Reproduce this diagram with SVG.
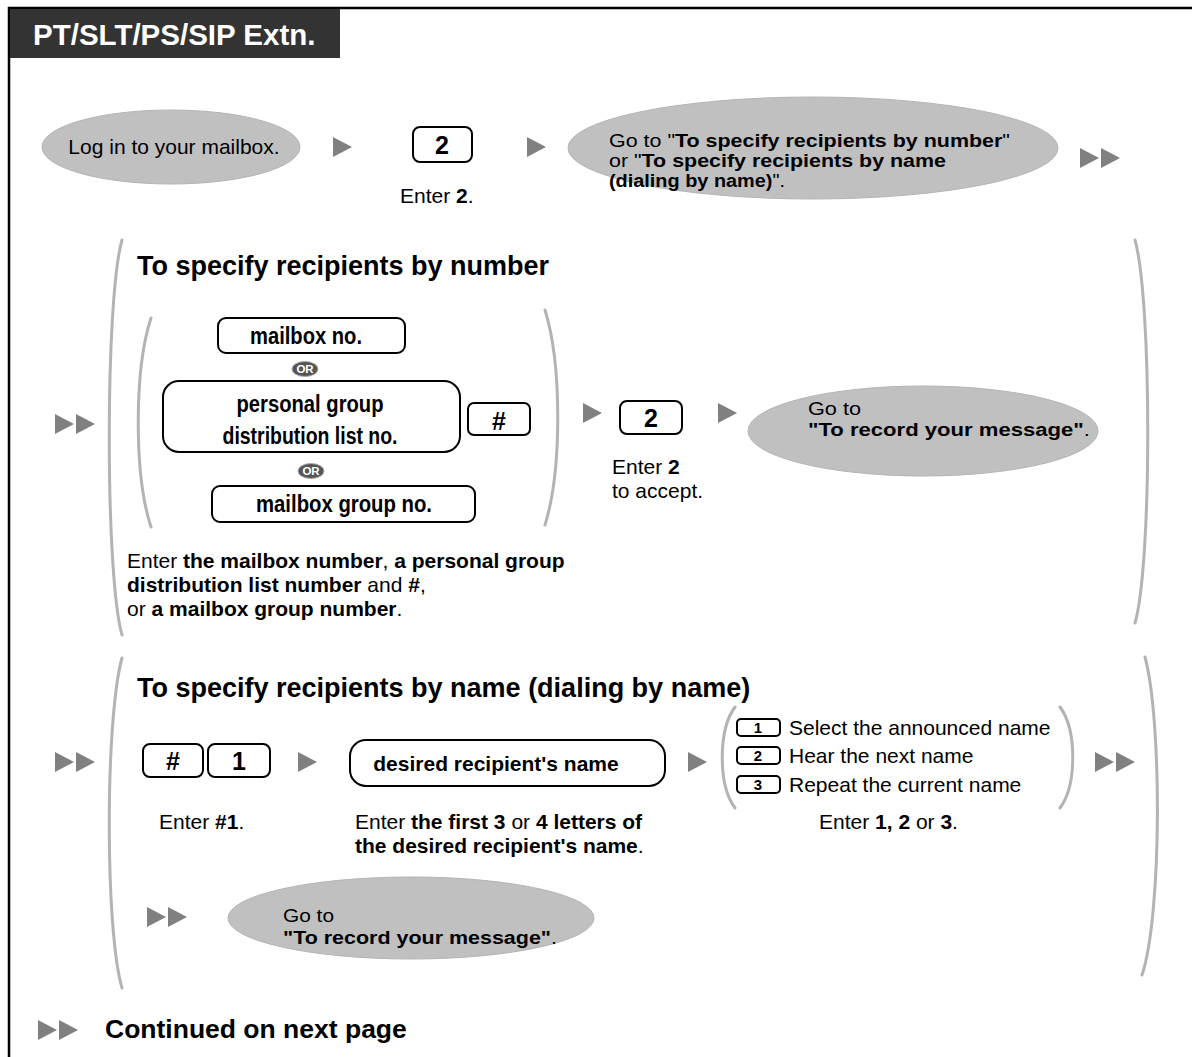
<svg xmlns="http://www.w3.org/2000/svg" width="1192" height="1057" viewBox="0 0 1192 1057">
<style>
text{font-family:"Liberation Sans",Arial,sans-serif;fill:#000}
.t{font-size:21px}
.e{font-size:17.5px}
.b{font-weight:bold}
.ttl{font-size:27px;font-weight:bold}
.key{fill:#fff;stroke:#000;stroke-width:2}
.kt{font-size:25px;font-weight:bold;text-anchor:middle}
.nar{font-family:"Liberation Sans Narrow","Liberation Sans",Arial,sans-serif;font-size:23px;font-weight:bold;text-anchor:middle}
.ell{fill:#c0c0c0;stroke:#b4b4b4;stroke-width:1}
.par{fill:none;stroke:#b3b3b3;stroke-width:3;stroke-linecap:round}
.sk{fill:#fff;stroke:#000;stroke-width:2}
.skt{font-size:15px;font-weight:bold;text-anchor:middle}
</style>
<defs>
<polygon id="tri" points="0,0 19,10 0,20" fill="#808080"/>
<g id="dbl"><use href="#tri"/><use href="#tri" x="21"/></g>
<g id="or"><ellipse cx="0" cy="0" rx="13" ry="7.5" fill="#555" stroke="#aaa" stroke-width="1"/><text x="0" y="4" font-size="11.5" font-weight="bold" text-anchor="middle" style="fill:#fff">OR</text></g>
</defs>
<rect width="1192" height="1057" fill="#fff"/>
<!-- frame -->
<path d="M9,1057 V8 H1192" fill="none" stroke="#000" stroke-width="2.5"/>
<g id="header">
<rect x="10" y="9" width="330" height="49" fill="#333"/>
<text x="33" y="45" font-size="29.5" font-weight="bold" style="fill:#fff">PT/SLT/PS/SIP Extn.</text>
</g>

<!-- Row 1 -->
<g id="login">
<ellipse class="ell" cx="171" cy="147" rx="129" ry="37"/>
<text class="t" x="174" y="154" text-anchor="middle">Log in to your mailbox.</text>
</g>
<g id="key2a">
<rect class="key" x="413" y="127" width="59" height="35" rx="7"/>
<text class="kt" x="442" y="154">2</text>
<text class="t" x="400" y="203">Enter <tspan class="b">2</tspan>.</text>
</g>
<g id="goto1">
<ellipse class="ell" cx="813" cy="148" rx="245" ry="51"/>
<text class="e" x="609" y="147" textLength="401" lengthAdjust="spacingAndGlyphs">Go to "<tspan class="b">To specify recipients by number</tspan>"</text>
<text class="e" x="609" y="167" textLength="337" lengthAdjust="spacingAndGlyphs">or "<tspan class="b">To specify recipients by name</tspan></text>
<text class="e" x="609" y="187" textLength="176" lengthAdjust="spacingAndGlyphs"><tspan class="b">(dialing by name)</tspan>".</text>
</g>

<!-- Section 1 -->
<g id="sec1">
<text class="ttl" x="137" y="275">To specify recipients by number</text>
<g id="mbx"><rect class="key" x="218" y="318" width="187" height="35" rx="8"/>
<text class="nar" x="306" y="344" textLength="112" lengthAdjust="spacingAndGlyphs">mailbox no.</text></g>
<use href="#or" x="305" y="369"/>
<g id="pgd"><rect class="key" x="163" y="381" width="297" height="71" rx="16"/>
<text class="nar" x="310" y="412" textLength="147" lengthAdjust="spacingAndGlyphs">personal group</text>
<text class="nar" x="310" y="444" textLength="175" lengthAdjust="spacingAndGlyphs">distribution list no.</text></g>
<g id="hash1"><rect class="key" x="468" y="403" width="62" height="32" rx="6"/>
<text class="kt" x="499" y="430">#</text></g>
<use href="#or" x="311" y="471"/>
<g id="mgn"><rect class="key" x="212" y="486" width="263" height="36" rx="8"/>
<text class="nar" x="344" y="512" textLength="176" lengthAdjust="spacingAndGlyphs">mailbox group no.</text></g>
<text class="t" x="127" y="568">Enter <tspan class="b">the mailbox number</tspan>, <tspan class="b">a personal group</tspan></text>
<text class="t" x="127" y="592"><tspan class="b">distribution list number</tspan> and <tspan class="b">#</tspan>,</text>
<text class="t" x="127" y="616">or <tspan class="b">a mailbox group number</tspan>.</text>
<g id="key2b"><rect class="key" x="620" y="401" width="62" height="33" rx="7"/>
<text class="kt" x="651" y="427">2</text>
<text class="t" x="612" y="474">Enter <tspan class="b">2</tspan></text>
<text class="t" x="612" y="498">to accept.</text></g>
<g id="goto2"><ellipse class="ell" cx="923" cy="431" rx="175" ry="45"/>
<text class="e" x="808" y="415" textLength="53" lengthAdjust="spacingAndGlyphs">Go to</text>
<text class="e" x="808" y="436" font-weight="bold" textLength="282" lengthAdjust="spacingAndGlyphs">"To record your message"<tspan font-weight="normal">.</tspan></text></g>
</g>

<!-- Section 2 -->
<g id="sec2">
<text class="ttl" x="137" y="697">To specify recipients by name (dialing by name)</text>
<g id="hash1key"><rect class="key" x="143" y="744" width="60" height="33" rx="7"/>
<text class="kt" x="173" y="770">#</text>
<rect class="key" x="208" y="744" width="62" height="33" rx="7"/>
<text class="kt" x="239" y="770">1</text>
<text class="t" x="159" y="829">Enter <tspan class="b">#1</tspan>.</text></g>
<g id="drn"><rect class="key" x="350" y="740" width="315" height="46" rx="16"/>
<text x="496" y="771" font-size="21" font-weight="bold" text-anchor="middle">desired recipient's name</text>
<text class="t" x="355" y="829">Enter <tspan class="b">the first 3</tspan> or <tspan class="b">4 letters of</tspan></text>
<text class="t" x="355" y="853"><tspan class="b">the desired recipient's name</tspan>.</text></g>
<g id="opts">
<rect class="sk" x="737" y="719" width="43" height="17" rx="4"/><text class="skt" x="758" y="733">1</text>
<rect class="sk" x="737" y="747" width="43" height="17" rx="4"/><text class="skt" x="758" y="761">2</text>
<rect class="sk" x="737" y="776" width="43" height="17" rx="4"/><text class="skt" x="758" y="790">3</text>
<text class="t" x="789" y="735">Select the announced name</text>
<text class="t" x="789" y="763">Hear the next name</text>
<text class="t" x="789" y="792">Repeat the current name</text>
<text class="t" x="819" y="829">Enter <tspan class="b">1, 2</tspan> or <tspan class="b">3</tspan>.</text>
</g>
<g id="goto3"><ellipse class="ell" cx="411" cy="918" rx="183" ry="41"/>
<text class="e" x="283" y="922" textLength="51" lengthAdjust="spacingAndGlyphs">Go to</text>
<text class="e" x="283" y="944" font-weight="bold" textLength="274" lengthAdjust="spacingAndGlyphs">"To record your message"<tspan font-weight="normal">.</tspan></text></g>
</g>

<g id="footer">
<text x="105" y="1038" font-size="26.5" font-weight="bold">Continued on next page</text>
</g>

<!-- connectors -->
<g id="connectors">
<use href="#tri" x="333" y="137"/>
<use href="#tri" x="527" y="137"/>
<use href="#dbl" x="1080" y="148"/>
<use href="#dbl" x="55" y="414"/>
<use href="#tri" x="583" y="403"/>
<use href="#tri" x="718" y="403"/>
<use href="#dbl" x="55" y="752"/>
<use href="#tri" x="298" y="752"/>
<use href="#tri" x="688" y="752"/>
<use href="#dbl" x="1095" y="752"/>
<use href="#dbl" x="147" y="907"/>
<use href="#dbl" x="38" y="1020"/>
<path class="par" d="M122,240 C105,300 105,575 122,635"/>
<path class="par" d="M1135,240 C1152,300 1152,565 1135,623"/>
<path class="par" d="M151,318 C134,370 134,475 151,527"/>
<path class="par" d="M545,310 C562,365 562,470 545,525"/>
<path class="par" d="M122,658 C105,720 105,930 122,988"/>
<path class="par" d="M1145,657 C1162,720 1162,915 1142,975"/>
<path class="par" d="M735,707 C718,730 718,785 735,808"/>
<path class="par" d="M1060,707 C1077,730 1077,785 1060,808"/>
</g>
</svg>
